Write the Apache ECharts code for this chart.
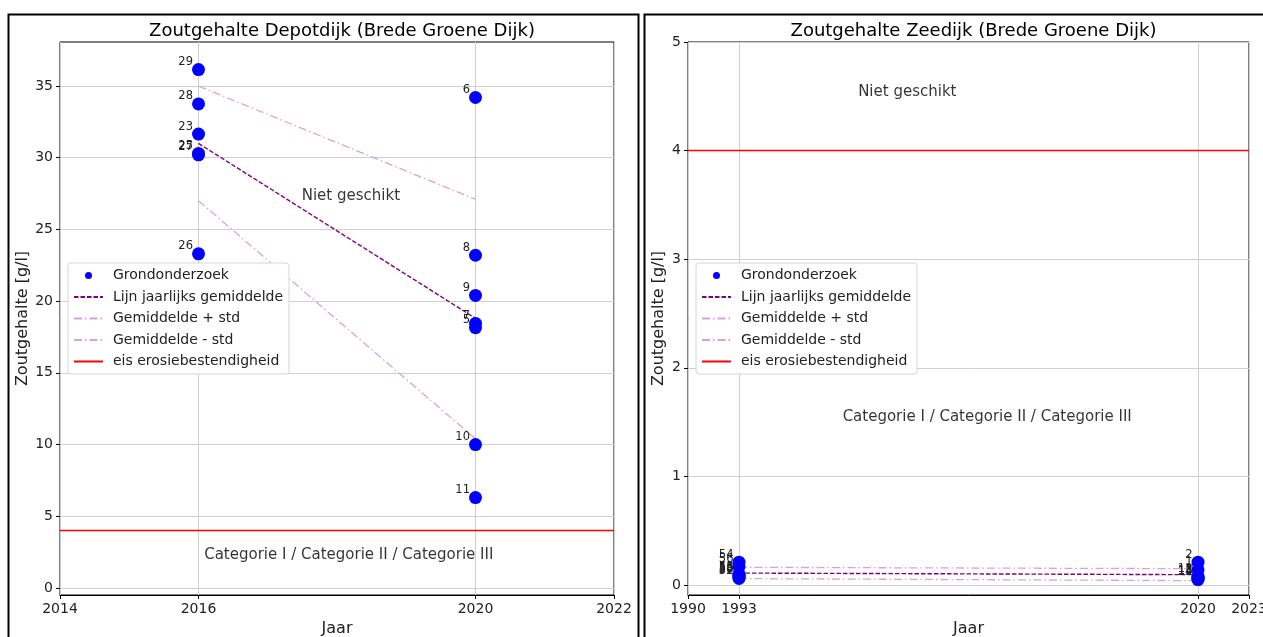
<!DOCTYPE html>
<html>
<head>
<meta charset="utf-8">
<script src="https://cdn.jsdelivr.net/npm/echarts@6/dist/echarts.min.js"></script>
<style>
  html, body { margin: 0; padding: 0; background: #fff; }
  #chart { width: 1263px; height: 637px; }
</style>
</head>
<body>
<div id="chart"></div>
<script>
// ---- Depotdijk (left panel) ----
const depotYears = [2016, 2020];
const depot2016Ids = ['29', '28', '23', '25', '27', '26'];
const depot2016Vals = [36.15, 33.75, 31.65, 30.3, 30.2, 23.3];
const depot2020Ids = ['6', '8', '9', '7', '5', '10', '11'];
const depot2020Vals = [34.2, 23.2, 20.4, 18.45, 18.15, 10.0, 6.3];
const depotMean = [31.0, 18.8];
const depotPlusStd = [35.0, 27.1];
const depotMinusStd = [27.0, 10.4];
const depotXTicks = [2014, 2016, 2020, 2022];
const depotYTicks = [0, 5, 10, 15, 20, 25, 30, 35];

// ---- Zeedijk (right panel) ----
const zeeYears = [1993, 2020];
const zee1993Ids = ['54', '56', '53', '55', '58', '50', '52'];
const zee1993Vals = [0.21, 0.17, 0.10, 0.09, 0.08, 0.07, 0.06];
const zee2020Ids = ['2', '1', '12', '3', '13', '14', '15'];
const zee2020Vals = [0.21, 0.14, 0.08, 0.07, 0.06, 0.055, 0.05];
const zeeMean = [0.11, 0.095];
const zeePlusStd = [0.163, 0.15];
const zeeMinusStd = [0.059, 0.04];
const zeeXTicks = [1990, 1993, 2020, 2023];
const zeeYTicks = [0, 1, 2, 3, 4, 5];

// Erosion resistance requirement (g/l)
const erosieEis = 4;

const FONT = 'DejaVu Sans';
const GRID_COLOR = '#cfcfcf';

const panels = [
  {
    title: 'Zoutgehalte Depotdijk (Brede Groene Dijk)',
    grid: { left: 60, top: 42, width: 554, height: 553 },
    xMin: 2014, xMax: 2022, yMin: -0.49, yMax: 38.07,
    xTicks: depotXTicks, yTicks: depotYTicks,
    years: depotYears,
    groups: [[depot2016Ids, depot2016Vals], [depot2020Ids, depot2020Vals]],
    mean: depotMean, plus: depotPlusStd, minus: depotMinusStd,
    nietPos: [2018.2, 27.3], catPos: [2018.17, 2.3],
    nameGap: 29,
    legend: { left: 68, top: 263 }
  },
  {
    title: 'Zoutgehalte Zeedijk (Brede Groene Dijk)',
    grid: { left: 688, top: 42, width: 561, height: 553 },
    xMin: 1990, xMax: 2023, yMin: -0.092, yMax: 5.0,
    xTicks: zeeXTicks, yTicks: zeeYTicks,
    years: zeeYears,
    groups: [[zee1993Ids, zee1993Vals], [zee2020Ids, zee2020Vals]],
    mean: zeeMean, plus: zeePlusStd, minus: zeeMinusStd,
    nietPos: [2002.9, 4.54], catPos: [2007.6, 1.55],
    nameGap: 21,
    legend: { left: 696, top: 263 }
  }
];

const legendNames = ['Grondonderzoek', 'Lijn jaarlijks gemiddelde', 'Gemiddelde + std', 'Gemiddelde - std', 'eis erosiebestendigheid'];

const option = {
  animation: false,
  backgroundColor: '#fff',
  textStyle: { fontFamily: FONT },
  title: [],
  grid: [],
  xAxis: [],
  yAxis: [],
  legend: [],
  series: [],
  graphic: [
    { type: 'rect', shape: { x: 8.5, y: 14.5, width: 630, height: 640 }, style: { fill: 'none', stroke: '#000', lineWidth: 2 }, silent: true },
    { type: 'rect', shape: { x: 644.5, y: 14.5, width: 640, height: 640 }, style: { fill: 'none', stroke: '#000', lineWidth: 2 }, silent: true }
  ]
};

panels.forEach((p, i) => {
  option.title.push({
    text: p.title,
    left: p.grid.left + p.grid.width / 2,
    top: 17,
    textAlign: 'center',
    textStyle: { fontFamily: FONT, fontSize: 18, fontWeight: 'normal', color: '#000' }
  });
  option.grid.push(Object.assign({
    show: true, borderColor: '#000', borderWidth: 1, backgroundColor: '#fff',
    containLabel: false, outerBoundsMode: 'none'
  }, p.grid));
  option.xAxis.push({
    type: 'value', gridIndex: i, min: p.xMin, max: p.xMax,
    name: 'Jaar', nameLocation: 'middle', nameGap: 24,
    nameTextStyle: { fontFamily: FONT, fontSize: 16, color: '#222' },
    axisLine: { show: true, onZero: false, lineStyle: { color: '#000' } },
    axisTick: { show: true, length: 4, lineStyle: { color: '#000' }, customValues: p.xTicks },
    axisLabel: { customValues: p.xTicks, margin: 7, fontFamily: FONT, fontSize: 14, color: '#222', formatter: v => String(v) },
    splitLine: { show: false }
  });
  option.yAxis.push({
    type: 'value', gridIndex: i, min: p.yMin, max: p.yMax,
    name: 'Zoutgehalte [g/l]', nameLocation: 'middle', nameGap: p.nameGap,
    nameTextStyle: { fontFamily: FONT, fontSize: 16, color: '#222' },
    axisLine: { show: true, onZero: false, lineStyle: { color: '#000' } },
    axisTick: { show: true, length: 4, lineStyle: { color: '#000' }, customValues: p.yTicks },
    axisLabel: { customValues: p.yTicks, margin: 7, fontFamily: FONT, fontSize: 14, color: '#222', formatter: v => String(v) },
    splitLine: { show: false }
  });

  // grid lines at the tick positions, kept beneath the data
  option.series.push({
    type: 'line', xAxisIndex: i, yAxisIndex: i, data: [], silent: true, z: 1,
    markLine: {
      z: 1, silent: true, symbol: 'none', label: { show: false },
      lineStyle: { color: GRID_COLOR, width: 1, type: 'solid' },
      emphasis: { disabled: true },
      data: p.xTicks.map(v => ({ xAxis: v })).concat(p.yTicks.map(v => ({ yAxis: v })))
    }
  });

  // mean and standard deviation lines
  const lineSeries = [
    ['Gemiddelde + std', p.plus, '#dda0dd', [8, 3, 1.5, 3], 1.3],
    ['Gemiddelde - std', p.minus, '#dda0dd', [8, 3, 1.5, 3], 1.3],
    ['Lijn jaarlijks gemiddelde', p.mean, '#800080', [4.5, 2], 1.4]
  ];
  lineSeries.forEach(([name, vals, color, dash, w]) => {
    option.series.push({
      name, type: 'line', xAxisIndex: i, yAxisIndex: i, z: 3,
      symbol: 'none', showSymbol: false, silent: true,
      lineStyle: { color, type: dash, width: w },
      itemStyle: { color },
      data: p.years.map((y, k) => [y, vals[k]])
    });
  });

  // erosion resistance requirement across the whole axis
  option.series.push({
    name: 'eis erosiebestendigheid', type: 'line', xAxisIndex: i, yAxisIndex: i, z: 3,
    symbol: 'none', showSymbol: false, silent: true,
    lineStyle: { color: '#ff0000', width: 1.5, type: 'solid' },
    itemStyle: { color: '#ff0000' },
    data: [[p.xMin, erosieEis], [p.xMax, erosieEis]]
  });

  // soil survey measurements with their sample numbers
  const pts = [];
  p.groups.forEach(([ids, vals], g) => {
    ids.forEach((id, k) => pts.push({ name: id, value: [p.years[g], vals[k]] }));
  });
  option.series.push({
    name: 'Grondonderzoek', type: 'scatter', xAxisIndex: i, yAxisIndex: i, z: 4,
    symbol: 'circle', symbolSize: 13,
    itemStyle: { color: '#0000ff', opacity: 1 },
    label: {
      show: true, position: [1, -1], align: 'right', verticalAlign: 'middle',
      formatter: '{b}', fontFamily: FONT, fontSize: 11.5, color: '#222'
    },
    labelLayout: { hideOverlap: false },
    data: pts
  });

  // category annotations
  option.series.push({
    type: 'scatter', xAxisIndex: i, yAxisIndex: i, z: 5, silent: true,
    symbolSize: 0,
    label: { show: true, position: 'inside', formatter: '{b}', fontFamily: FONT, fontSize: 15, color: '#000' },
    data: [
      { name: 'Niet geschikt', value: p.nietPos },
      { name: 'Categorie I / Categorie II / Categorie III', value: p.catPos }
    ]
  });

  option.legend.push({
    orient: 'vertical',
    left: p.legend.left, top: p.legend.top,
    padding: [5, 6, 5, 5],
    itemWidth: 29, itemHeight: 7, itemGap: 6.5,
    backgroundColor: 'rgba(255,255,255,0.92)',
    borderColor: '#d6d6d6', borderWidth: 1, borderRadius: 3,
    selectedMode: false,
    textStyle: { fontFamily: FONT, fontSize: 14, color: '#222', lineHeight: 15, padding: [0, 0, 0, 5] },
    data: legendNames.map(n => n === 'Grondonderzoek'
      ? { name: n, icon: 'circle' }
      : { name: n, itemStyle: { opacity: 0 } }),
    z: 10
  });
});

const chart = echarts.init(document.getElementById('chart'), null, { renderer: 'canvas' });
chart.setOption(option);
</script>
</body>
</html>
